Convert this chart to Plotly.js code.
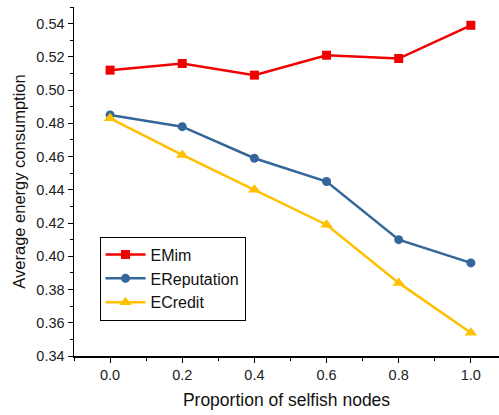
<!DOCTYPE html>
<html><head><meta charset="utf-8">
<script src="https://cdn.plot.ly/plotly-3.0.1.min.js"></script>
<style>html,body{margin:0;padding:0;background:#fff}</style>
</head><body><div id="chart" style="width:499px;height:415px"></div>
<script>
const xVals = [0.0, 0.2, 0.4, 0.6, 0.8, 1.0];
const emim = [0.512, 0.516, 0.509, 0.521, 0.519, 0.539];
const ereputation = [0.485, 0.478, 0.459, 0.445, 0.410, 0.396];
const ecredit = [0.483, 0.461, 0.440, 0.419, 0.384, 0.354];
const xTicks = [0.0, 0.2, 0.4, 0.6, 0.8, 1.0];
const xTickText = ['0.0', '0.2', '0.4', '0.6', '0.8', '1.0'];

const traces = [
  {x: xVals, y: emim, name: 'EMim', mode: 'lines+markers',
   line: {color: '#f00000', width: 2.5}, marker: {symbol: 'square', size: 9, color: '#f00000'}},
  {x: xVals, y: ereputation, name: 'EReputation', mode: 'lines+markers',
   line: {color: '#336699', width: 2.5}, marker: {symbol: 'circle', size: 9, color: '#336699'}},
  {x: xVals, y: ecredit, name: 'ECredit', mode: 'lines+markers',
   line: {color: '#ffc000', width: 2.5}, marker: {symbol: 'triangle-up', size: 11, color: '#ffc000'}}
];
const layout = {
  width: 499, height: 415,
  margin: {l: 74, r: 0, t: 7, b: 59},
  paper_bgcolor: '#fff', plot_bgcolor: '#fff',
  font: {family: 'Liberation Sans, Arial, sans-serif', color: '#222', size: 14},
  showlegend: true,
  legend: {x: 0.06, y: 0.342, xanchor: 'left', yanchor: 'top', bordercolor: '#000', borderwidth: 1,
    bgcolor: '#fff', font: {size: 16, color: '#111'}, tracegroupgap: 0, itemwidth: 40},
  xaxis: {range: [-0.1, 1.078], tickvals: xTicks, ticktext: xTickText, showgrid: false, zeroline: false,
    showline: true, linecolor: '#000', linewidth: 1.5, ticks: 'outside', ticklen: 5, tickcolor: '#000',
    minor: {dtick: 0.1, ticks: 'outside', ticklen: 3, tickcolor: '#000', showgrid: false},
    tickfont: {size: 14.5, color: '#222'},
    title: {text: 'Proportion of selfish nodes', font: {size: 17.5, color: '#111'}, standoff: 12}},
  yaxis: {range: [0.34, 0.55], dtick: 0.02, tick0: 0.34, tickformat: '.2f', showgrid: false, zeroline: false,
    showline: true, linecolor: '#000', linewidth: 1.5, ticks: 'outside', ticklen: 5, tickcolor: '#000',
    minor: {dtick: 0.01, ticks: 'outside', ticklen: 3, tickcolor: '#000', showgrid: false},
    tickfont: {size: 14.5, color: '#222'},
    title: {text: 'Average energy consumption', font: {size: 16.5, color: '#111'}, standoff: 6}}
};
Plotly.newPlot('chart', traces, layout, {displayModeBar: false, staticPlot: true});
</script></body></html>
